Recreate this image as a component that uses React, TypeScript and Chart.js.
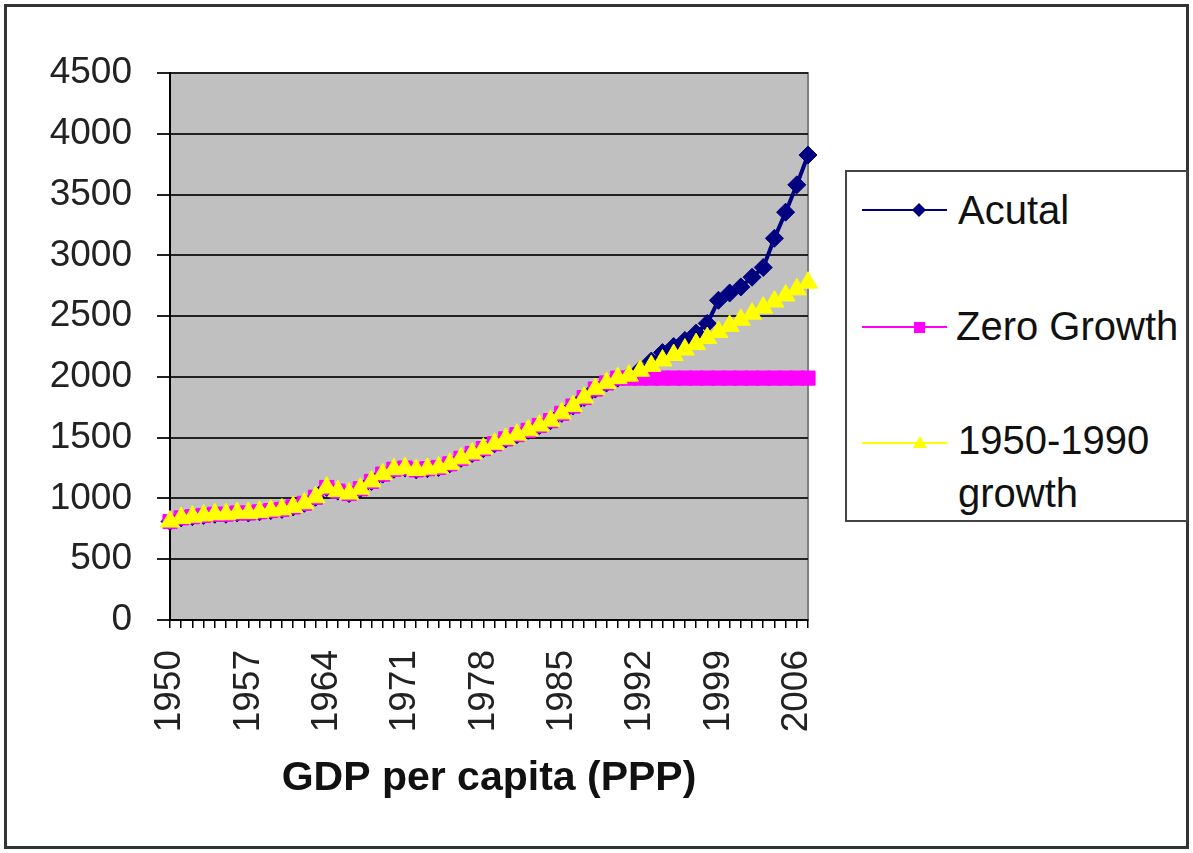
import React, { useEffect, useRef } from "react";
import { Chart, registerables } from "chart.js";

Chart.register(...registerables);

const years = [
  "1950", "1951", "1952", "1953", "1954", "1955", "1956", "1957", "1958", "1959",
  "1960", "1961", "1962", "1963", "1964", "1965", "1966", "1967", "1968", "1969",
  "1970", "1971", "1972", "1973", "1974", "1975", "1976", "1977", "1978", "1979",
  "1980", "1981", "1982", "1983", "1984", "1985", "1986", "1987", "1988", "1989",
  "1990", "1991", "1992", "1993", "1994", "1995", "1996", "1997", "1998", "1999",
  "2000", "2001", "2002", "2003", "2004", "2005", "2006", "2007",
];

const shownYearLabels = ["1950", "1957", "1964", "1971", "1978", "1985", "1992", "1999", "2006"];

const yTickValues = [0, 500, 1000, 1500, 2000, 2500, 3000, 3500, 4000, 4500];

const actual = [
  810, 840, 850, 860, 870, 870, 880, 880, 890, 900,
  910, 930, 960, 1010, 1090, 1060, 1040, 1080, 1140, 1200,
  1240, 1250, 1235, 1245, 1255, 1285, 1330, 1370, 1410, 1450,
  1490, 1525, 1560, 1600, 1640, 1700, 1760, 1830, 1900, 1950,
  1990, 2010, 2060, 2130, 2200, 2250, 2300, 2360, 2440, 2630,
  2690, 2740, 2820, 2900, 3140, 3355, 3580, 3825,
];

const zeroGrowth = [
  810, 840, 850, 860, 870, 870, 880, 880, 890, 900,
  910, 930, 960, 1010, 1090, 1060, 1040, 1080, 1140, 1200,
  1240, 1250, 1235, 1245, 1255, 1285, 1330, 1370, 1410, 1450,
  1490, 1525, 1560, 1600, 1640, 1700, 1760, 1830, 1900, 1950,
  1990, 1990, 1990, 1990, 1990, 1990, 1990, 1990, 1990, 1990,
  1990, 1990, 1990, 1990, 1990, 1990, 1990, 1990,
];

const growth5090 = [
  810, 840, 850, 860, 870, 870, 880, 880, 890, 900,
  910, 930, 960, 1010, 1090, 1060, 1040, 1080, 1140, 1200,
  1240, 1250, 1235, 1245, 1255, 1285, 1330, 1370, 1410, 1450,
  1490, 1525, 1560, 1600, 1640, 1700, 1760, 1830, 1900, 1950,
  1990, 2010, 2050, 2090, 2135, 2180, 2225, 2270, 2320, 2370,
  2420, 2470, 2520, 2570, 2620, 2670, 2720, 2775,
];

const seriesNames = ["Acutal", "Zero Growth", "1950-1990 growth"];

const FONT = 'Arial, "Liberation Sans", sans-serif';

const plotBg = {
  id: "plotBg",
  beforeDraw(chart: any) {
    const { ctx, chartArea: a } = chart;
    ctx.save();
    ctx.fillStyle = "#c0c0c0";
    ctx.fillRect(a.left, a.top, a.right - a.left, a.bottom - a.top);
    ctx.strokeStyle = "#808080";
    ctx.lineWidth = 2;
    ctx.strokeRect(a.left, a.top, a.right - a.left, a.bottom - a.top);
    ctx.restore();
  },
};

export default function App() {
  const ref = useRef<HTMLCanvasElement | null>(null);

  useEffect(() => {
    if (!ref.current) return;
    const chart = new Chart(ref.current, {
      type: "line",
      data: {
        labels: years,
        datasets: [
          {
            label: seriesNames[0],
            data: actual,
            borderColor: "#000080",
            backgroundColor: "#000080",
            borderWidth: 4,
            pointStyle: "rectRot",
            pointRadius: 9,
            pointBorderWidth: 1,
            pointBorderColor: "#000080",
            pointBackgroundColor: "#000080",
            tension: 0,
            order: 3,
          },
          {
            label: seriesNames[1],
            data: zeroGrowth,
            borderColor: "#ff00ff",
            backgroundColor: "#ff00ff",
            borderWidth: 4,
            pointStyle: "rect",
            pointRadius: 10,
            pointBorderWidth: 1,
            pointBorderColor: "#ff00ff",
            pointBackgroundColor: "#ff00ff",
            tension: 0,
            order: 2,
          },
          {
            label: seriesNames[2],
            data: growth5090,
            borderColor: "#ffff00",
            backgroundColor: "#ffff00",
            borderWidth: 5,
            pointStyle: "triangle",
            pointRadius: 11,
            pointBorderWidth: 1,
            pointBorderColor: "#ffff00",
            pointBackgroundColor: "#ffff00",
            tension: 0,
            order: 1,
          },
        ],
      },
      options: {
        responsive: false,
        animation: false,
        layout: { padding: { left: 0, top: 73, right: 385, bottom: 50 } },
        plugins: {
          legend: { display: false },
          tooltip: { enabled: false },
          title: { display: false },
        },
        scales: {
          x: {
            type: "category",
            offset: false,
            afterFit(scale: any) {
              scale.height = 183;
            },
            grid: {
              display: true,
              drawOnChartArea: false,
              drawTicks: true,
              tickLength: 8,
              color: "#000",
              lineWidth: 1.5,
            },
            border: { display: true, color: "#000", width: 2 },
            ticks: {
              autoSkip: false,
              maxRotation: 90,
              minRotation: 90,
              padding: 22,
              color: "#222",
              font: { family: FONT, size: 37 },
              callback: (_v: any, i: number) =>
                shownYearLabels.includes(years[i]) ? years[i] : "",
            },
            title: {
              display: true,
              text: "GDP per capita (PPP)",
              color: "#111",
              font: { family: FONT, size: 41, weight: "bold" },
              padding: 0,
            },
          },
          y: {
            min: yTickValues[0],
            max: yTickValues[yTickValues.length - 1],
            afterFit(scale: any) {
              scale.width = 170;
            },
            afterBuildTicks(scale: any) {
              scale.ticks = yTickValues.map((v) => ({ value: v }));
            },
            grid: {
              color: "#222",
              lineWidth: 2,
              tickLength: 13,
            },
            border: { display: true, color: "#000", width: 2 },
            ticks: {
              padding: 25,
              color: "#222",
              font: { family: FONT, size: 37 },
              callback: (v: any) => String(v),
            },
          },
        },
      },
      plugins: [plotBg],
    } as any);
    return () => chart.destroy();
  }, []);

  const legendText: React.CSSProperties = {
    position: "absolute",
    fontFamily: FONT,
    fontSize: 40,
    color: "#111",
    lineHeight: "52px",
    whiteSpace: "nowrap",
  };

  return (
    <div
      style={{
        position: "absolute",
        left: 0,
        top: 0,
        width: 1193,
        height: 853,
        background: "#fff",
        overflow: "hidden",
      }}
    >
      <canvas ref={ref} width={1193} height={853} style={{ position: "absolute", left: 0, top: 0, width: 1193, height: 853 }} />
      <div
        style={{
          position: "absolute",
          left: 4,
          top: 4,
          width: 1185,
          height: 845,
          border: "3px solid #333",
          boxSizing: "border-box",
          pointerEvents: "none",
        }}
      />
      <div
        style={{
          position: "absolute",
          left: 845,
          top: 170,
          width: 343,
          height: 352,
          border: "2px solid #444",
          boxSizing: "border-box",
          background: "#fff",
        }}
      >
        <svg width={100} height={30} style={{ position: "absolute", left: 15, top: 23 }}>
          <line x1={0} y1={15} x2={85} y2={15} stroke="#000080" strokeWidth={2} />
          <polygon points="57,8 64,15 57,22 50,15" fill="#000080" />
        </svg>
        <div style={{ ...legendText, left: 111, top: 12 }}>{seriesNames[0]}</div>

        <svg width={100} height={30} style={{ position: "absolute", left: 15, top: 140 }}>
          <line x1={0} y1={15} x2={85} y2={15} stroke="#ff00ff" strokeWidth={2} />
          <rect x={52} y={10} width={11} height={11} fill="#ff00ff" />
        </svg>
        <div style={{ ...legendText, left: 109, top: 128 }}>{seriesNames[1]}</div>

        <svg width={100} height={30} style={{ position: "absolute", left: 15, top: 256 }}>
          <line x1={0} y1={15} x2={85} y2={15} stroke="#ffff00" strokeWidth={2} />
          <polygon points="58,8 65,20 51,20" fill="#ffff00" />
        </svg>
        <div style={{ ...legendText, left: 111, top: 242, lineHeight: "53px" }}>
          1950-1990
          <br />
          growth
        </div>
      </div>
    </div>
  );
}
